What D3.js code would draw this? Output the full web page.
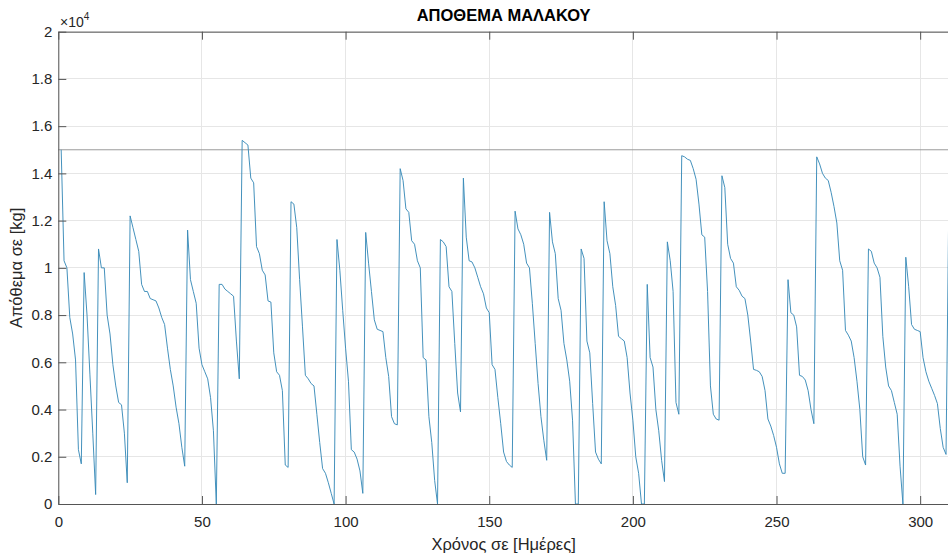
<!DOCTYPE html>
<html>
<head>
<meta charset="utf-8">
<script src="https://cdn.jsdelivr.net/npm/d3@7"></script>
<style>
  html, body { margin: 0; padding: 0; background: #ffffff; }
  svg { display: block; font-family: "Liberation Sans", Arial, Helvetica, sans-serif; }
</style>
</head>
<body>
<svg id="chart" width="948" height="554"></svg>
<script>
// ---- data (stock in kg, one value per day, days 1..310) ----
const title = "ΑΠΟΘΕΜΑ ΜΑΛΑΚΟΥ";
const xLabel = "Χρόνος σε [Ημέρες]";
const yLabel = "Απόθεμα σε [kg]";
const xTicks = [0, 50, 100, 150, 200, 250, 300];
const yTicks = [0, 2000, 4000, 6000, 8000, 10000, 12000, 14000, 16000, 18000, 20000];
const yTickLabels = ["0", "0.2", "0.4", "0.6", "0.8", "1", "1.2", "1.4", "1.6", "1.8", "2"];
const stockLimit = 15000;
const stock = [
  15000, 10300, 10000, 7900, 7200, 6100, 2300, 1700, 9800, 8000,
  5500, 3000, 400, 10800, 10000, 10000, 8000, 7200, 5900, 5000,
  4300, 4200, 3000, 900, 12200, 11700, 11200, 10700, 9300, 9000,
  9000, 8700, 8650, 8600, 8300, 7900, 7600, 6600, 5700, 5000,
  4100, 3400, 2400, 1600, 11600, 9500, 9000, 8500, 6600, 5900,
  5600, 5300, 4500, 3100, 0, 9300, 9300, 9100, 9000, 8900,
  8800, 6900, 5300, 15400, 15300, 15200, 13800, 13600, 10900, 10600,
  9900, 9700, 8600, 8550, 6400, 5600, 5450, 4800, 1650, 1550,
  12800, 12700, 11700, 9500, 7500, 5450, 5300, 5100, 5000, 3800,
  2600, 1500, 1300, 900, 450, 0, 11200, 9900, 8200, 6600,
  5200, 2300, 2200, 1900, 1400, 450, 11500, 10200, 9000, 7800,
  7400, 7350, 7300, 6200, 5400, 3700, 3400, 3350, 14200, 13700,
  12500, 12350, 11150, 11000, 10300, 10000, 6200, 6100, 3700, 2600,
  1000, 0, 11200, 11100, 10900, 9200, 9000, 6800, 4700, 3900,
  13800, 11300, 10300, 10250, 10000, 9600, 9200, 8900, 8300, 8100,
  5900, 5700, 4500, 3400, 2200, 1800, 1650, 1550, 12400, 11650,
  11400, 11000, 10200, 10000, 8500, 6800, 5100, 3700, 2700, 1850,
  12350, 11100, 10600, 8700, 8200, 6800, 6100, 5200, 3550, 0,
  0, 10800, 10400, 6900, 6400, 4250, 2200, 1900, 1700, 12800,
  11150, 10600, 9200, 8400, 7100, 7000, 6900, 6200, 4700, 3550,
  2000, 1300, 0, 0, 9300, 6200, 5800, 4000, 3100, 1850,
  950, 11100, 10300, 9000, 4300, 3800, 14750, 14700, 14600, 14550,
  14200, 13750, 12700, 11400, 11300, 9000, 5000, 3800, 3600, 3550,
  13900, 13400, 11000, 10400, 10200, 9200, 9050, 8800, 8700, 8000,
  6900, 5700, 5660, 5600, 5400, 4800, 3600, 3300, 2900, 2400,
  1700, 1300, 1300, 9500, 8100, 8000, 7500, 5450, 5400, 5250,
  4800, 4000, 3400, 14700, 14400, 14000, 13800, 13700, 13200, 12600,
  11900, 10300, 9900, 7350, 7150, 6900, 6200, 5200, 4000, 2000,
  1650, 10800, 10700, 10200, 10000, 9600, 7100, 5800, 5000, 4800,
  4300, 3800, 1600, 0, 10450, 9200, 7600, 7400, 7350, 7300,
  6200, 5600, 5200, 4900, 4600, 4250, 3200, 2400, 2100, 13100
];
const days = stock.map((_, i) => i + 1);

// ---- layout ----
const m = { left: 58.3, right: 948.9, top: 31.7, bottom: 504 };
const svg = d3.select("#chart");

const x = d3.scaleLinear().domain([0, 310]).range([m.left, m.right]);
const y = d3.scaleLinear().domain([0, 20000]).range([m.bottom, m.top]);

const gridColor = "#e6e6e6";
const axisColor = "#555555";
const textColor = "#262626";
const tickLen = 8;

// grid
const grid = svg.append("g");
grid.selectAll("line.gx").data(xTicks).join("line")
  .attr("x1", d => x(d)).attr("x2", d => x(d))
  .attr("y1", m.top).attr("y2", m.bottom)
  .attr("stroke", gridColor).attr("stroke-width", 1).attr("shape-rendering", "crispEdges");
grid.selectAll("line.gy").data(yTicks).join("line")
  .attr("x1", m.left).attr("x2", m.right)
  .attr("y1", d => y(d)).attr("y2", d => y(d))
  .attr("stroke", gridColor).attr("stroke-width", 1).attr("shape-rendering", "crispEdges");

// stock limit reference line
svg.append("line")
  .attr("x1", m.left).attr("x2", m.right)
  .attr("y1", y(stockLimit)).attr("y2", y(stockLimit))
  .attr("stroke", "#9a9a9a").attr("stroke-width", 1);

// data line
const line = d3.line().x((d, i) => x(days[i])).y(d => y(d));
svg.append("path")
  .datum(stock)
  .attr("d", line)
  .attr("fill", "none")
  .attr("stroke", "#3a8bb8")
  .attr("stroke-width", 0.95);

// axes (box)
const xAxisB = d3.axisBottom(x).tickValues(xTicks).tickSizeInner(-tickLen).tickSizeOuter(0).tickPadding(12);
const gxb = svg.append("g").attr("transform", `translate(0,${m.bottom})`).call(xAxisB);
const xAxisT = d3.axisTop(x).tickValues(xTicks).tickSizeInner(-tickLen).tickSizeOuter(0).tickFormat("");
const gxt = svg.append("g").attr("transform", `translate(0,${m.top})`).call(xAxisT);
const yAxisL = d3.axisLeft(y).tickValues(yTicks).tickSizeInner(-tickLen).tickSizeOuter(0).tickPadding(6)
  .tickFormat((d, i) => yTickLabels[i]);
const gyl = svg.append("g").attr("transform", `translate(${m.left},0)`).call(yAxisL);

[gxb, gxt, gyl].forEach(g => {
  g.select(".domain").attr("stroke", axisColor).attr("stroke-width", 1);
  g.selectAll(".tick line").attr("stroke", axisColor).attr("stroke-width", 1);
  g.selectAll(".tick text").attr("fill", textColor).style("font-size", "15px")
    .style("font-family", '"Liberation Sans", Arial, sans-serif');
});
gxb.selectAll(".tick text").attr("dy", "0.71em");

// exponent label
const expo = svg.append("text").attr("x", 60).attr("y", 27)
  .attr("fill", textColor).style("font-size", "14px");
expo.append("tspan").text("×10");
expo.append("tspan").attr("dy", -7).style("font-size", "10px").text("4");

// title
svg.append("text")
  .attr("x", (m.left + m.right) / 2).attr("y", 21)
  .attr("text-anchor", "middle")
  .attr("fill", "#000")
  .style("font-size", "16.5px").style("font-weight", "bold")
  .text(title);

// x label
svg.append("text")
  .attr("x", (m.left + m.right) / 2).attr("y", 550)
  .attr("text-anchor", "middle")
  .attr("fill", textColor)
  .style("font-size", "16.5px")
  .text(xLabel);

// y label
svg.append("text")
  .attr("transform", `translate(22,${(m.top + m.bottom) / 2}) rotate(-90)`)
  .attr("text-anchor", "middle")
  .attr("fill", textColor)
  .style("font-size", "16.5px")
  .text(yLabel);
</script>
</body>
</html>
